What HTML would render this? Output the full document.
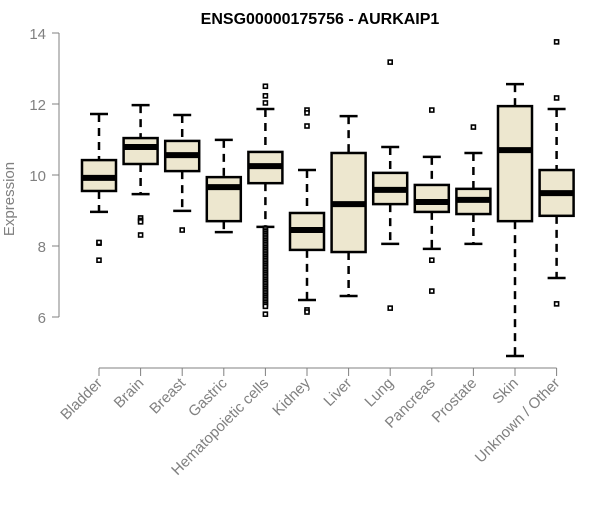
<!DOCTYPE html>
<html><head><meta charset="utf-8"><style>
html,body{margin:0;padding:0;background:#fff;}
svg text{font-family:"Liberation Sans",sans-serif;}
</style></head><body>
<svg id="chart" width="600" height="500"></svg>
<script>
const categories=["Bladder","Brain","Breast","Gastric","Hematopoietic cells","Kidney","Liver","Lung","Pancreas","Prostate","Skin","Unknown / Other"];
const whiskerHigh=[11.72,11.97,11.69,10.99,11.86,10.14,11.66,10.79,10.51,10.62,12.56,11.86];
const q3=[10.42,11.04,10.96,9.94,10.65,8.93,10.62,10.06,9.72,9.61,11.94,10.14];
const medians=[9.92,10.79,10.56,9.66,10.25,8.45,9.18,9.58,9.24,9.30,10.70,9.49];
const q1=[9.55,10.31,10.11,8.70,9.77,7.89,7.83,9.18,8.96,8.90,8.70,8.85];
const whiskerLow=[8.96,9.46,8.99,8.39,8.54,6.48,6.59,8.06,7.92,8.06,4.90,7.10];
const outliers=[
 [8.08,8.1,7.6],
 [8.79,8.72,8.68,8.31],
 [8.45],
 [],
 [12.5,12.23,12.03,8.5,8.45,8.4,8.35,8.3,8.25,8.2,8.15,8.1,8.05,8.0,7.95,7.9,7.85,7.8,7.75,7.7,7.65,7.6,7.55,7.5,7.45,7.4,7.35,7.3,7.25,7.2,7.15,7.1,7.05,7.0,6.95,6.9,6.85,6.8,6.75,6.7,6.65,6.6,6.55,6.5,6.45,6.4,6.35,6.3,6.08],
 [11.83,11.75,11.38,6.2,6.14],
 [],
 [13.18,6.25],
 [11.83,7.6,6.73],
 [11.35],
 [],
 [13.75,12.17,6.37]
];
const yTicks=[6,8,10,12,14];
const NS="http://www.w3.org/2000/svg";
const svg=document.getElementById("chart");
function y(v){return 317-(v-6)*35.5;}
function x(i){return 99+i*41.6;}
function mk(tag,attrs,parent){const e=document.createElementNS(NS,tag);for(const k in attrs)e.setAttribute(k,attrs[k]);(parent||svg).appendChild(e);return e;}
const t=mk("text",{x:320,y:24,"text-anchor":"middle","font-size":"16","font-weight":"bold",fill:"#000"});


t.textContent="ENSG00000175756 - AURKAIP1";
const yl=mk("text",{x:14,y:199,"text-anchor":"middle","font-size":"15",fill:"#808080",transform:"rotate(-90 14 199)"});


yl.textContent="Expression";
const ya=mk("g",{});


mk("line",{x1:59,x2:59,y1:y(14),y2:y(6),stroke:"#808080","stroke-width":1},ya);
yTicks.forEach(v=>{
 mk("line",{x1:52,x2:59,y1:y(v),y2:y(v),stroke:"#808080"},ya);
 const tl=mk("text",{x:46,y:y(v)+6,"text-anchor":"end","font-size":"15",fill:"#808080"},ya);
 
 
 tl.textContent=v;
});
const xa=mk("g",{});


mk("line",{x1:x(0),x2:x(11),y1:368,y2:368,stroke:"#808080"},xa);
categories.forEach((c,i)=>{
 mk("line",{x1:x(i),x2:x(i),y1:368,y2:376,stroke:"#808080"},xa);
 const tx=x(i)+4,ty=384;
 const tl=mk("text",{x:tx,y:ty,"text-anchor":"end","font-size":"15",fill:"#808080",transform:`rotate(-45 ${tx} ${ty})`},xa);
 
 
 tl.textContent=c;
});
categories.forEach((c,i)=>{
 const g=mk("g",{});
 
 
 const cx=x(i),hw=17;
 mk("line",{x1:cx,x2:cx,y1:y(whiskerHigh[i]),y2:y(q3[i]),stroke:"#000","stroke-width":2.5,"stroke-dasharray":"8,6"},g);
 mk("line",{x1:cx,x2:cx,y1:y(q1[i]),y2:y(whiskerLow[i]),stroke:"#000","stroke-width":2.5,"stroke-dasharray":"8,6"},g);
 mk("line",{x1:cx-9,x2:cx+9,y1:y(whiskerHigh[i]),y2:y(whiskerHigh[i]),stroke:"#000","stroke-width":2.5},g);
 mk("line",{x1:cx-9,x2:cx+9,y1:y(whiskerLow[i]),y2:y(whiskerLow[i]),stroke:"#000","stroke-width":2.5},g);
 mk("rect",{x:cx-hw,y:y(q3[i]),width:hw*2,height:y(q1[i])-y(q3[i]),fill:"#ede7cf",stroke:"#000","stroke-width":2.5},g);
 mk("line",{x1:cx-hw,x2:cx+hw,y1:y(medians[i]),y2:y(medians[i]),stroke:"#000","stroke-width":6},g);
 outliers[i].forEach(v=>{mk("rect",{x:cx-2,y:y(v)-2,width:4,height:4,fill:"#fff",stroke:"#000","stroke-width":1.6},g);});
});
</script>
</body></html>
